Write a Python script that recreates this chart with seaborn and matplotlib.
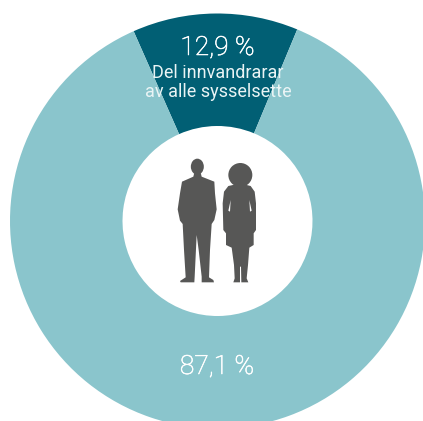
import matplotlib
matplotlib.use('Agg')
import matplotlib.pyplot as plt
import matplotlib.patheffects as pe
from matplotlib.patches import Polygon, Circle, Ellipse
import seaborn as sns

shares = [12.9, 87.1]
labels = ['12,9 %', '87,1 %']
caption = ['Del innvandrarar', 'av alle sysselsette']
colors = ['#015F74', '#8AC5CC']
grey = '#575756'

sns.set_theme(style='white')
plt.rcParams['font.family'] = ['Roboto', 'DejaVu Sans']

W, H = 423, 421
fig = plt.figure(figsize=(W / 100, H / 100), dpi=100)
ax = fig.add_axes([0, 0, 1, 1])

# pie starts at the right edge of the dark slice
ax.pie(shares, colors=colors, startangle=67.4, radius=207.5, center=(217.5, H - 221),
       wedgeprops={'width': 112.5, 'linewidth': 0}, frame=True)
ax.set_xlim(0, W)
ax.set_ylim(0, H)
ax.set_aspect('equal')
ax.axis('off')


def zoomed(points):
    # silhouette outline was traced on a 3x crop starting at (160, 150)
    return [(160 + x / 3, H - (150 + y / 3)) for x, y in points]


man = [(103, 68), (100, 80), (66, 95), (60, 130), (53, 178), (60, 212), (68, 222), (72, 300),
       (77, 382), (60, 393), (62, 397), (103, 397), (104, 380), (110, 255), (116, 300),
       (125, 380), (125, 397), (162, 397), (160, 390), (147, 382), (150, 300), (155, 222),
       (163, 210), (170, 178), (165, 130), (163, 95), (125, 80), (122, 68)]
woman = [(228, 95), (228, 103), (205, 108), (192, 125), (188, 160), (190, 240), (198, 250),
         (198, 285), (215, 293), (222, 345), (224, 385), (220, 397), (240, 397), (240, 350),
         (243, 350), (244, 397), (265, 397), (260, 385), (264, 345), (268, 293), (281, 285),
         (281, 250), (288, 240), (288, 160), (284, 125), (272, 108), (252, 103), (252, 95)]
slits = [[(212, 150), (205, 182), (210, 185)], [(268, 150), (275, 182), (270, 185)]]

ax.add_patch(Polygon(zoomed(man), closed=True, fc=grey, ec='none'))
ax.add_patch(Ellipse(zoomed([(112, 50)])[0], 13, 16, fc=grey, ec='none'))
ax.add_patch(Polygon(zoomed(woman), closed=True, fc=grey, ec='none'))
ax.add_patch(Circle(zoomed([(241, 75)])[0], 12, fc=grey, ec='none'))
for s in slits:
    ax.add_patch(Polygon(zoomed(s), closed=True, fc='white', ec='none'))

# light weight comes out a bit thin, thicken it slightly
thick = [pe.withStroke(linewidth=0.4, foreground='white')]
ax.text(217.5, H - 48, labels[0], color='white', fontsize=19, fontweight='light', ha='center', va='center',
        path_effects=thick)
ax.text(218, H - 73, caption[0], color='#EAF4F5', fontsize=13, ha='center', va='center')
ax.text(218, H - 92, caption[1], color='#EAF4F5', fontsize=13, ha='center', va='center')
ax.text(217, H - 367, labels[1], color='white', fontsize=19, fontweight='light', ha='center', va='center',
        path_effects=thick)

fig.savefig('out.png', dpi=100)
